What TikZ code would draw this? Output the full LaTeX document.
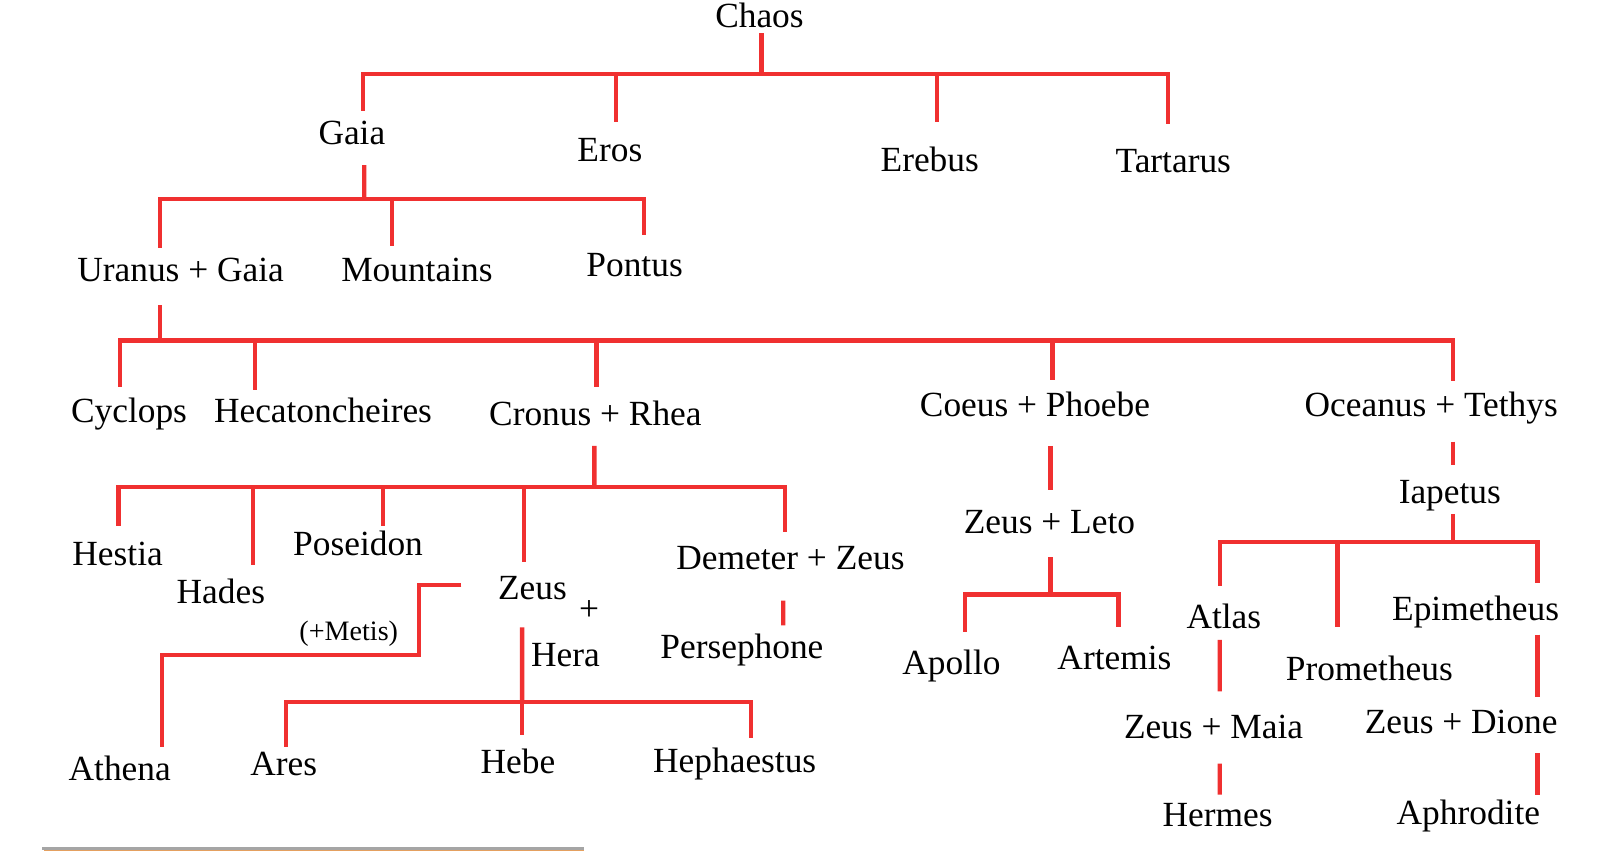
\documentclass[tikz,border=0pt]{standalone}
\usepackage{fontspec}
\setmainfont{Liberation Serif}
\usepackage{xcolor}
\definecolor{treered}{RGB}{240,48,48}
\definecolor{rulegray}{RGB}{165,165,165}
\definecolor{ruleorange}{RGB}{228,160,96}
\usepackage{tikz}
\usetikzlibrary{calc}

\begin{document}
\begin{tikzpicture}[
    god/.style={anchor=base, inner sep=0pt, font=\fontsize{19.5}{22}\selectfont},
    note/.style={anchor=base, inner sep=0pt, font=\fontsize{15.5}{18}\selectfont},
    link/.style={draw=treered, line width=2.4pt}]
  \useasboundingbox (0,0) rectangle (31.36,16.52);
  % Names
  \node[god] (chaos) at (14.72,15.98) {Chaos};
  \node[god] (gaia) at (6.82,13.72) {Gaia};
  \node[god] (eros) at (11.82,13.38) {Eros};
  \node[god] (erebus) at (18.02,13.20) {Erebus};
  \node[god] (tartarus) at (22.74,13.18) {Tartarus};
  \node[god] (uranus) at (3.50,11.06) {Uranus + Gaia};
  \node[god] (mountains) at (8.08,11.06) {Mountains};
  \node[god] (pontus) at (12.30,11.16) {Pontus};
  \node[god] (cyclops) at (2.50,8.34) {Cyclops};
  \node[god] (hecaton) at (6.26,8.34) {Hecatoncheires};
  \node[god] (cronus) at (11.54,8.28) {Cronus + Rhea};
  \node[god] (coeus) at (20.06,8.44) {Coeus + Phoebe};
  \node[god] (oceanus) at (27.74,8.44) {Oceanus + Tethys};
  \node[god] (hestia) at (2.28,5.56) {Hestia};
  \node[god] (hades) at (4.28,4.82) {Hades};
  \node[god] (poseidon) at (6.94,5.76) {Poseidon};
  \node[god] (zeus) at (10.32,4.90) {Zeus};
  \node[god, anchor=center] (plus) at (11.42,4.68) {+};
  \node[god] (hera) at (10.96,3.60) {Hera};
  \node[god] (demeter) at (15.32,5.48) {Demeter + Zeus};
  \node[god] (persephone) at (14.38,3.76) {Persephone};
  \node[note] (metis) at (6.76,4.10) {(+Metis)};
  \node[god] (athena) at (2.32,1.40) {Athena};
  \node[god] (ares) at (5.50,1.48) {Ares};
  \node[god] (hebe) at (10.04,1.52) {Hebe};
  \node[god] (hephaestus) at (14.24,1.54) {Hephaestus};
  \node[god] (leto) at (20.34,6.18) {Zeus + Leto};
  \node[god] (apollo) at (18.44,3.44) {Apollo};
  \node[god] (artemis) at (21.60,3.54) {Artemis};
  \node[god] (iapetus) at (28.10,6.76) {Iapetus};
  \node[god] (atlas) at (23.72,4.34) {Atlas};
  \node[god] (epimetheus) at (28.60,4.50) {Epimetheus};
  \node[god] (prometheus) at (26.54,3.34) {Prometheus};
  \node[god] (maia) at (23.52,2.20) {Zeus + Maia};
  \node[god] (dione) at (28.32,2.30) {Zeus + Dione};
  \node[god] (hermes) at (23.60,0.50) {Hermes};
  \node[god] (aphrodite) at (28.46,0.54) {Aphrodite};
  % Chaos
  \coordinate (jchaos) at (14.76,15.08);
  \draw[link] ([xshift=0.04cm,yshift=-0.10cm]chaos.base) -- (jchaos);
  \draw[link] (jchaos) -| ([xshift=0.22cm,yshift=0.64cm]gaia.base);
  \draw[link] (jchaos) -| ([xshift=0.12cm,yshift=0.78cm]eros.base);
  \draw[link] (jchaos) -| ([xshift=0.14cm,yshift=0.96cm]erebus.base);
  \draw[link] (jchaos) -| ([xshift=-0.10cm,yshift=0.94cm]tartarus.base);
  % Gaia
  \coordinate (jgaia) at (7.06,12.66);
  \draw[link] ([xshift=0.24cm,yshift=-0.40cm]gaia.base) -- (jgaia);
  \draw[link] (jgaia) -| ([xshift=-0.40cm,yshift=0.66cm]uranus.base);
  \draw[link] (jgaia) -| ([xshift=-0.48cm,yshift=0.70cm]mountains.base);
  \draw[link] (jgaia) -| ([xshift=0.18cm,yshift=0.80cm]pontus.base);
  % Uranus + Gaia
  \coordinate (juranus) at (3.10,9.92);
  \draw[link] ([xshift=-0.40cm,yshift=-0.46cm]uranus.base) -- (juranus);
  \draw[link] (juranus) -| ([xshift=-0.18cm,yshift=0.68cm]cyclops.base);
  \draw[link] (juranus) -| ([xshift=-1.32cm,yshift=0.62cm]hecaton.base);
  \draw[link] (juranus) -| ([xshift=0.02cm,yshift=0.74cm]cronus.base);
  \draw[link] (juranus) -| ([xshift=0.34cm,yshift=0.72cm]coeus.base);
  \draw[link] (juranus) -| ([xshift=0.42cm,yshift=0.70cm]oceanus.base);
  % Cronus + Rhea
  \coordinate (jcronus) at (11.52,7.08);
  \draw[link] ([xshift=-0.02cm,yshift=-0.40cm]cronus.base) -- (jcronus);
  \draw[link] (jcronus) -| ([xshift=0.02cm,yshift=0.76cm]hestia.base);
  \draw[link] (jcronus) -| ([xshift=0.62cm,yshift=0.74cm]hades.base);
  \draw[link] (jcronus) -| ([xshift=0.48cm,yshift=0.56cm]poseidon.base);
  \draw[link] (jcronus) -| ([xshift=-0.16cm,yshift=0.72cm]zeus.base);
  \draw[link] (jcronus) -| ([xshift=-0.10cm,yshift=0.72cm]demeter.base);
  \draw[link] ([xshift=-0.14cm,yshift=-0.60cm]demeter.base) -- ([xshift=0.80cm,yshift=0.64cm]persephone.base);
  % Zeus + Metis, Zeus + Hera
  \draw[link] ([xshift=-1.38cm,yshift=0.28cm]zeus.base) -- ++(-0.82,0) -- ++(0,-1.36)
    -| ([xshift=0.82cm,yshift=0.64cm]athena.base);
  \coordinate (jhera) at (10.12,2.92);
  \draw[link] ([xshift=-0.20cm,yshift=-0.54cm]zeus.base) -- (jhera);
  \draw[link] (jhera) -| ([xshift=0.04cm,yshift=0.56cm]ares.base);
  \draw[link] (jhera) -| ([xshift=0.08cm,yshift=0.76cm]hebe.base);
  \draw[link] (jhera) -| ([xshift=0.32cm,yshift=0.68cm]hephaestus.base);
  % Coeus + Phoebe
  \draw[link] ([xshift=0.30cm,yshift=-0.56cm]coeus.base) -- ([xshift=0.02cm,yshift=0.84cm]leto.base);
  \coordinate (jleto) at (20.36,5.00);
  \draw[link] ([xshift=0.02cm,yshift=-0.46cm]leto.base) -- (jleto);
  \draw[link] (jleto) -| ([xshift=0.26cm,yshift=0.84cm]apollo.base);
  \draw[link] (jleto) -| ([xshift=0.08cm,yshift=0.82cm]artemis.base);
  % Oceanus + Tethys
  \draw[link] ([xshift=0.42cm,yshift=-0.48cm]oceanus.base) -- ([xshift=0.06cm,yshift=0.74cm]iapetus.base);
  \coordinate (jiapetus) at (28.16,6.02);
  \draw[link] ([xshift=0.06cm,yshift=-0.20cm]iapetus.base) -- (jiapetus);
  \draw[link] (jiapetus) -| ([xshift=-0.08cm,yshift=0.82cm]atlas.base);
  \draw[link] (jiapetus) -| ([xshift=-0.62cm,yshift=1.02cm]prometheus.base);
  \draw[link] (jiapetus) -| ([xshift=1.20cm,yshift=0.72cm]epimetheus.base);
  \draw[link] ([xshift=-0.08cm,yshift=-0.22cm]atlas.base) -- ([xshift=0.12cm,yshift=0.92cm]maia.base);
  \draw[link] ([xshift=0.12cm,yshift=-0.48cm]maia.base) -- ([xshift=0.04cm,yshift=0.62cm]hermes.base);
  \draw[link] ([xshift=1.20cm,yshift=-0.28cm]epimetheus.base) -- ([xshift=1.48cm,yshift=0.72cm]dione.base);
  \draw[link] ([xshift=1.48cm,yshift=-0.38cm]dione.base) -- ([xshift=1.34cm,yshift=0.58cm]aphrodite.base);
  % Bottom rule
  \draw[rulegray, line width=1.4pt] (0.82,0.07) -- (11.32,0.07);
  \draw[ruleorange, line width=0.6pt] (0.86,0.035) -- (11.32,0.035);
\end{tikzpicture}
\end{document}
